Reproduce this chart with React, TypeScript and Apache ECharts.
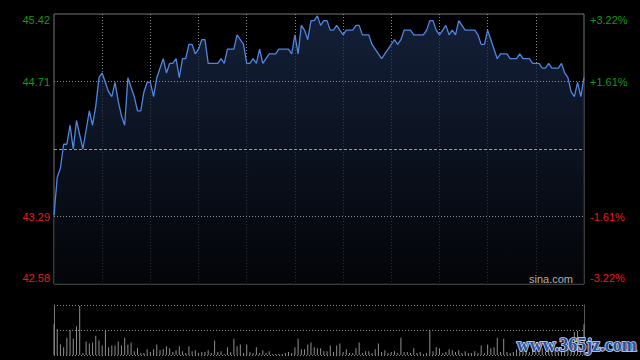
import React, { useEffect, useRef } from "react";
import * as echarts from "echarts";

const PREV_CLOSE = 44.0;
const PRICE_MIN = 42.58;
const PRICE_MAX = 45.42;
const PRICE_TICKS = [42.58, 43.29, 44.71, 45.42];
const PRICE_LABELS = ["42.58", "43.29", "44.71", "45.42"];
const PCT_LABELS = ["-3.22%", "-1.61%", "+1.61%", "+3.22%"];

// two-minute samples, 09:30-12:00 and 13:02-16:00
const PRICES = [
  43.3, 43.7, 43.8, 44.05, 44.05, 44.25, 44.0, 44.3, 44.15, 44.0,
  44.2, 44.4, 44.25, 44.45, 44.75, 44.8, 44.7, 44.6, 44.55, 44.7,
  44.5, 44.35, 44.25, 44.75, 44.65, 44.55, 44.4, 44.4, 44.6, 44.7,
  44.7, 44.55, 44.75, 44.85, 44.95, 44.8, 44.9, 44.9, 44.95, 44.75,
  44.95, 44.95, 45.1, 45.1, 45.0, 45.05, 45.15, 45.15, 44.9, 44.9,
  44.9, 44.9, 44.95, 44.9, 45.05, 45.05, 45.05, 45.2, 45.15, 45.1,
  44.9, 44.9, 44.95, 44.9, 45.05, 44.9, 44.95, 45.0, 45.0, 45.0,
  45.05, 45.05, 45.05, 45.05, 45.0, 45.2, 45.0, 45.3, 45.25, 45.15,
  45.35, 45.35, 45.4, 45.3, 45.35, 45.35, 45.25, 45.25, 45.3, 45.25,
  45.2, 45.25, 45.25, 45.25, 45.3, 45.3, 45.2, 45.2, 45.2, 45.1,
  45.05, 45.0, 44.95, 45.0, 45.05, 45.1, 45.15, 45.1, 45.15, 45.25,
  45.25, 45.25, 45.2, 45.2, 45.2, 45.2, 45.25, 45.35, 45.35, 45.25,
  45.2, 45.25, 45.3, 45.2, 45.25, 45.2, 45.35, 45.3, 45.25, 45.25,
  45.25, 45.25, 45.2, 45.1, 45.1, 45.25, 45.15, 45.05, 44.95, 45.0,
  45.0, 45.0, 44.95, 44.95, 44.95, 45.0, 44.95, 44.95, 44.95, 44.9,
  44.9, 44.9, 44.85, 44.85, 44.9, 44.85, 44.85, 44.85, 44.9, 44.8,
  44.75, 44.6, 44.55, 44.7, 44.55, 44.75,
];

const VOLUMES = [
  32, 27, 11, 8, 18, 26, 17, 30, 51, 2,
  14, 12, 13, 20, 15, 10, 25, 8, 10, 10,
  14, 10, 18, 11, 13, 4, 7, 2, 2, 6,
  3, 6, 11, 5, 6, 9, 7, 3, 5, 9,
  4, 2, 9, 4, 5, 2, 3, 3, 5, 2,
  15, 3, 4, 1, 8, 3, 17, 9, 11, 2,
  11, 3, 2, 8, 2, 5, 2, 4, 1, 1,
  1, 1, 2, 3, 2, 8, 17, 6, 6, 11,
  13, 8, 7, 7, 4, 4, 10, 3, 10, 12,
  3, 6, 2, 2, 7, 13, 2, 4, 4, 2,
  6, 12, 3, 5, 2, 3, 4, 2, 18, 3,
  3, 2, 7, 2, 3, 1, 2, 26, 4, 8,
  7, 2, 3, 6, 5, 3, 5, 2, 4, 2,
  2, 4, 2, 10, 2, 11, 7, 8, 18, 3,
  17, 3, 2, 3, 6, 3, 5, 8, 3, 6,
  4, 3, 7, 3, 5, 4, 6, 3, 8, 5,
  10, 6, 24, 25, 8, 32,
];

function buildTimes(): string[] {
  const out: string[] = [];
  const fmt = (m: number) =>
    `${String(Math.floor(m / 60)).padStart(2, "0")}:${String(m % 60).padStart(2, "0")}`;
  for (let m = 570; m <= 720; m += 2) out.push(fmt(m));
  for (let m = 782; m <= 960; m += 2) out.push(fmt(m));
  return out;
}
const TIMES = buildTimes();

const GREEN = "#129a12";
const RED = "#e41c1c";
const GRID_LINE = "#8a8a8a";
const FONT = "'Liberation Sans', Arial, sans-serif";

function tickIndex(v: number): number {
  return PRICE_TICKS.findIndex((t) => Math.abs(t - v) < 1e-6);
}

export default function App() {
  const ref = useRef<HTMLDivElement>(null);

  useEffect(() => {
    if (!ref.current) return;
    const chart = echarts.init(ref.current, null, { renderer: "svg" });
    const rich = {
      g: { color: GREEN, fontSize: 11, fontFamily: FONT },
      r: { color: RED, fontSize: 11, fontFamily: FONT },
      gt: { color: GREEN, fontSize: 11, fontFamily: FONT, padding: [12, 0, 0, 0] },
      rb: { color: RED, fontSize: 11, fontFamily: FONT, padding: [0, 0, 12, 0] },
    };
    const styleKey = (i: number) => (i === 0 ? "rb" : i === 1 ? "r" : i === 2 ? "g" : "gt");

    const option: any = {
      animation: false,
      backgroundColor: "#000",
      grid: [
        { left: 54, top: 14, width: 530, height: 270, show: true, borderColor: "#777", borderWidth: 1, backgroundColor: "transparent" },
        { left: 54, top: 305, width: 530, height: 50 },
      ],
      xAxis: [
        {
          type: "category",
          gridIndex: 0,
          data: TIMES,
          boundaryGap: false,
          axisLine: { show: false },
          axisTick: { show: false },
          axisLabel: { show: false },
          splitLine: {
            show: true,
            interval: (i: number) => i > 0 && i < TIMES.length - 1 && i % 15 === 0,
            lineStyle: { color: GRID_LINE, type: [1, 2], width: 1 },
          },
        },
        {
          type: "category",
          gridIndex: 1,
          data: TIMES,
          boundaryGap: false,
          axisLine: { show: false },
          axisTick: { show: false },
          axisLabel: { show: false },
          splitLine: { show: false },
        },
      ],
      yAxis: [
        {
          type: "value",
          gridIndex: 0,
          min: PRICE_MIN,
          max: PRICE_MAX,
          position: "left",
          axisLine: { show: false },
          axisTick: { show: false },
          splitLine: { show: false },
          axisLabel: {
            customValues: PRICE_TICKS,
            margin: 4,
            fontSize: 11,
            fontFamily: FONT,
            formatter: (v: number) => {
              const i = tickIndex(v);
              if (i < 0) return "";
              return `{${styleKey(i)}|${PRICE_LABELS[i]}}`;
            },
            rich,
          },
        },
        {
          type: "value",
          gridIndex: 0,
          min: PRICE_MIN,
          max: PRICE_MAX,
          position: "right",
          axisLine: { show: false },
          axisTick: { show: false },
          splitLine: { show: false },
          axisLabel: {
            customValues: PRICE_TICKS,
            margin: 6,
            fontSize: 11,
            fontFamily: FONT,
            formatter: (v: number) => {
              const i = tickIndex(v);
              if (i < 0) return "";
              return `{${styleKey(i)}|${PCT_LABELS[i]}}`;
            },
            rich,
          },
        },
        {
          type: "value",
          gridIndex: 1,
          min: 0,
          max: 52,
          interval: 26,
          position: "left",
          axisLine: { show: true, lineStyle: { color: "#777", width: 1 } },
          axisTick: { show: false },
          axisLabel: { show: false },
          splitLine: { show: true, lineStyle: { color: GRID_LINE, type: [1, 2], width: 1 } },
        },
        {
          type: "value",
          gridIndex: 1,
          min: 0,
          max: 52,
          interval: 26,
          position: "right",
          axisLine: { show: true, lineStyle: { color: "#555", width: 1 } },
          axisTick: { show: false },
          axisLabel: { show: false },
          splitLine: { show: false },
        },
      ],
      series: [
        {
          type: "line",
          xAxisIndex: 0,
          yAxisIndex: 0,
          data: PRICES,
          symbol: "none",
          showSymbol: false,
          lineStyle: { color: "#4f86e0", width: 1.3 },
          areaStyle: {
            origin: "start",
            color: new echarts.graphic.LinearGradient(0, 0, 0, 1, [
              { offset: 0, color: "#1c2d50" },
              { offset: 1, color: "#04060a" },
            ]),
          },
          markLine: {
            silent: true,
            symbol: "none",
            label: { show: false },
            data: [
              { yAxis: PRICE_TICKS[2], lineStyle: { color: GRID_LINE, type: [1, 2], width: 1 } },
              { yAxis: PRICE_TICKS[1], lineStyle: { color: GRID_LINE, type: [1, 2], width: 1 } },
              { yAxis: PREV_CLOSE, lineStyle: { color: "#9a9a9a", type: [3, 2], width: 1 } },
            ],
          },
        },
        {
          type: "bar",
          xAxisIndex: 1,
          yAxisIndex: 2,
          data: VOLUMES,
          barWidth: 1,
          itemStyle: { color: "#8e8e8e" },
        },
      ],
      graphic: [
        {
          type: "text",
          right: 67,
          top: 273,
          z: 100,
          style: { text: "sina.com", fill: "#b0b0b0", font: `11px ${FONT}` },
        },
        {
          type: "text",
          left: 516,
          top: 335,
          z: 100,
          style: {
            text: "www.365jz.com",
            fill: "#2a51a0",
            stroke: "#d2dcf0",
            lineWidth: 1.6,
            font: "bold 18px 'Liberation Serif', 'DejaVu Serif', serif",
          },
        },
      ],
    };
    chart.setOption(option);
    return () => chart.dispose();
  }, []);

  return (
    <div
      ref={ref}
      style={{ position: "fixed", left: 0, top: 0, width: 640, height: 360, background: "#000" }}
    />
  );
}
